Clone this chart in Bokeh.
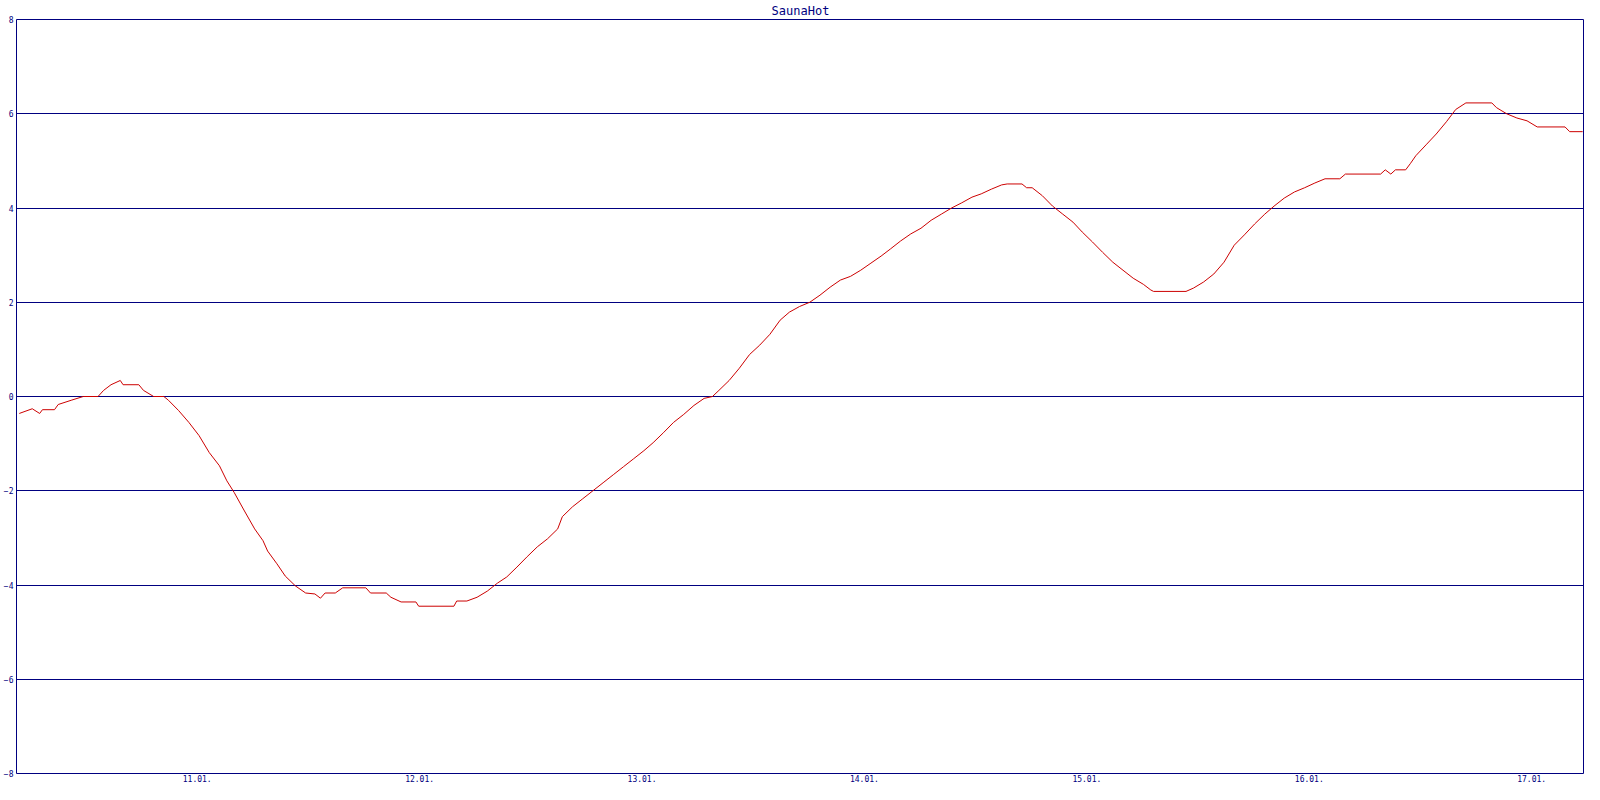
from bokeh.plotting import figure
from bokeh.models import FixedTicker, Range1d
from bokeh.embed import file_html
from bokeh.resources import INLINE

# time in hours since 10.01. 00:00, temperature values
hours = [4.8, 6.2, 7.0, 7.3, 8.6, 9.0, 10.4, 11.7, 13.3, 13.9, 14.7, 15.7, 16.0, 17.7, 18.2,
         19.3, 20.4, 20.9, 22.0, 23.1, 24.2, 25.3, 26.4, 27.2, 28.0, 29.1, 30.2, 31.1, 31.6,
         32.6, 33.5, 34.6, 35.7, 36.7, 37.3, 37.8, 38.9, 39.7, 42.2, 42.7, 44.4, 44.9, 46.0,
         47.6, 47.9, 51.7, 52.0, 53.1, 54.2, 55.3, 56.4, 57.4, 58.5, 59.6, 60.7, 61.8, 62.9,
         63.4, 64.5, 65.6, 66.7, 67.8, 68.9, 70.0, 71.1, 72.2, 73.2, 74.3, 75.4, 76.5, 77.6,
         78.7, 79.6, 80.3, 81.4, 82.5, 83.6, 84.7, 85.8, 86.9, 87.9, 89.0, 90.1, 91.2, 92.3,
         93.4, 94.5, 95.6, 96.7, 97.8, 98.8, 99.9, 101.0, 102.1, 103.2, 104.3, 105.4, 106.5,
         107.6, 108.6, 109.7, 110.8, 111.4, 113.0, 113.5, 114.1, 115.2, 116.3, 117.4, 118.5,
         119.5, 120.6, 121.7, 122.8, 123.9, 125.0, 126.1, 126.9, 127.2, 130.7, 131.5, 132.6,
         133.7, 134.8, 135.9, 137.0, 138.1, 139.2, 140.2, 141.3, 142.4, 143.5, 144.6, 145.7,
         147.3, 147.9, 151.7, 152.2, 152.8, 153.3, 154.4, 154.9, 155.5, 156.6, 157.7, 158.8,
         159.8, 160.9, 163.7, 164.2, 165.3, 166.4, 167.5, 168.6, 171.6, 172.1, 173.5]

temps = [-0.36, -0.26, -0.36, -0.28, -0.28, -0.17, -0.08, 0.0, 0.0, 0.13, 0.25, 0.34, 0.25, 0.25, 0.13,
         0.0, 0.0, -0.08, -0.30, -0.55, -0.83, -1.19, -1.47, -1.79, -2.04, -2.43, -2.81, -3.06, -3.28,
         -3.55, -3.81, -4.02, -4.17, -4.19, -4.28, -4.17, -4.17, -4.06, -4.06, -4.17, -4.17, -4.26, -4.36,
         -4.36, -4.45, -4.45, -4.34, -4.34, -4.26, -4.13, -3.96, -3.83, -3.62, -3.40, -3.19, -3.02, -2.81,
         -2.55, -2.34, -2.17, -2.00, -1.83, -1.66, -1.49, -1.32, -1.15, -0.98, -0.77, -0.55, -0.38, -0.19,
         -0.04, 0.0, 0.13, 0.34, 0.60, 0.89, 1.09, 1.32, 1.62, 1.79, 1.91, 2.00, 2.15, 2.32,
         2.47, 2.55, 2.68, 2.83, 2.98, 3.13, 3.30, 3.45, 3.57, 3.74, 3.87, 4.00, 4.11,
         4.23, 4.30, 4.40, 4.49, 4.51, 4.51, 4.43, 4.43, 4.26, 4.04, 3.87, 3.70,
         3.49, 3.28, 3.06, 2.85, 2.68, 2.51, 2.38, 2.26, 2.23, 2.23, 2.30, 2.43,
         2.60, 2.85, 3.21, 3.43, 3.66, 3.87, 4.04, 4.21, 4.34, 4.43, 4.53, 4.62,
         4.62, 4.72, 4.72, 4.81, 4.72, 4.81, 4.81, 4.94, 5.11, 5.34, 5.57, 5.83,
         6.09, 6.23, 6.23, 6.13, 6.00, 5.91, 5.85, 5.72, 5.72, 5.62, 5.62]

tick_hours = [24, 48, 72, 96, 120, 144, 168]
tick_labels = ["11.01.", "12.01.", "13.01.", "14.01.", "15.01.", "16.01.", "17.01."]
y_ticks = [-8, -6, -4, -2, 0, 2, 4, 6, 8]

NAVY = "#000080"
FONT = "DejaVu Sans Mono"

p = figure(width=1584, height=784, output_backend="svg", toolbar_location=None,
           title="SaunaHot", x_range=Range1d(4.5, 173.7), y_range=Range1d(-8, 8),
           min_border_left=0, min_border_right=0, min_border_top=0, min_border_bottom=0)

p.title.align = "center"
p.title.text_color = NAVY
p.title.text_font = FONT
p.title.text_font_style = "normal"
p.title.text_font_size = "12px"
p.title.standoff = 3
p.title.offset = 0

p.outline_line_color = NAVY
p.outline_line_width = 1
p.outline_line_alpha = 1

p.xgrid.grid_line_color = None
p.ygrid.grid_line_color = NAVY
p.ygrid.grid_line_alpha = 1
p.ygrid.grid_line_width = 1
p.ygrid.ticker = FixedTicker(ticks=y_ticks)

for ax in (p.xaxis[0], p.yaxis[0]):
    ax.axis_line_color = None
    ax.major_tick_line_color = None
    ax.minor_tick_line_color = None
    ax.major_tick_out = 0
    ax.major_tick_in = 0
    ax.minor_tick_out = 0
    ax.minor_tick_in = 0
    ax.major_label_text_color = NAVY
    ax.major_label_text_font = FONT
    ax.major_label_text_font_size = "8px"
    ax.major_label_standoff = 3

p.xaxis[0].major_label_standoff = 1
p.yaxis[0].ticker = FixedTicker(ticks=y_ticks)
p.xaxis[0].ticker = FixedTicker(ticks=tick_hours)
p.xaxis[0].major_label_overrides = {h: l for h, l in zip(tick_hours, tick_labels)}

p.line(hours, temps, line_color="#cc0000", line_width=1)

open("out.html", "w").write(file_html(p, INLINE))
